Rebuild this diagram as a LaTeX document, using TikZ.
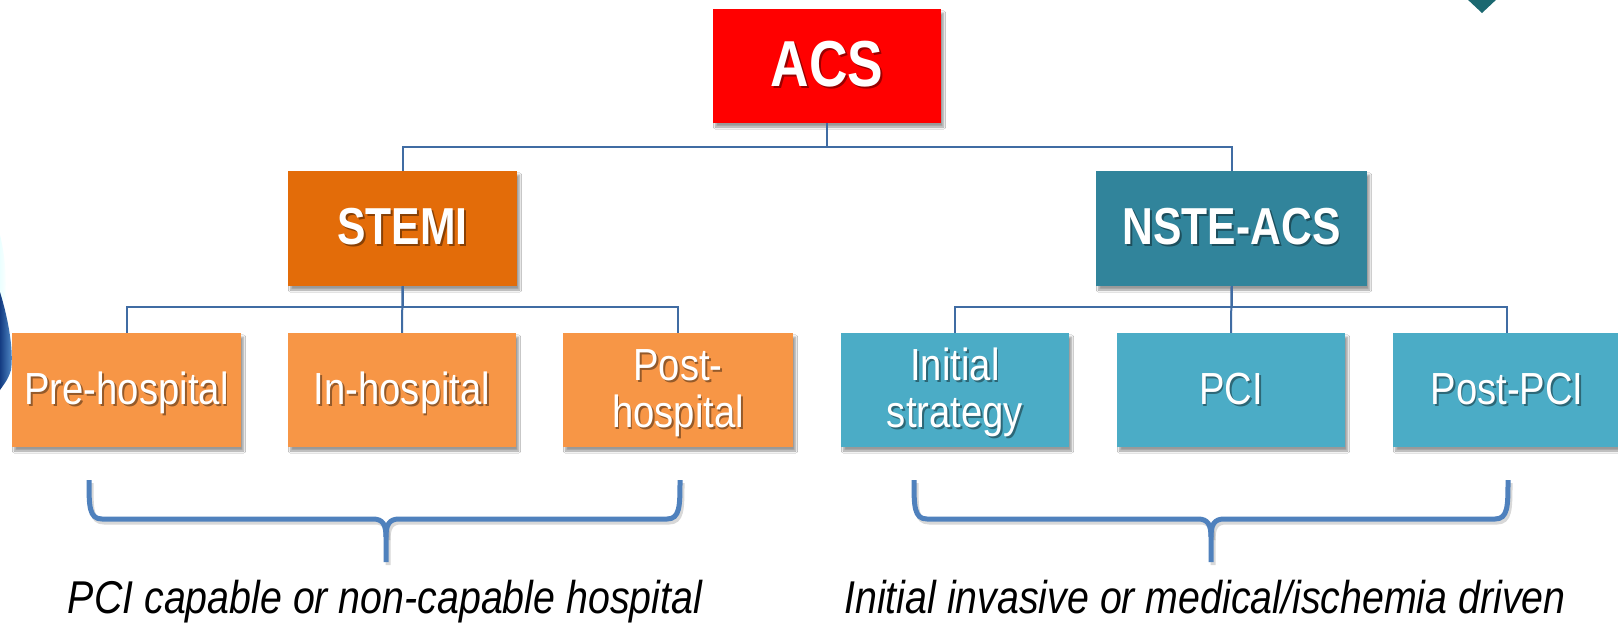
\documentclass[tikz,border=0pt]{standalone}
\usepackage{fontspec}
\setmainfont{Liberation Sans}[FakeStretch=0.85]
\newfontfamily\bfont{Liberation Sans}[FakeStretch=0.82]
\newfontfamily\ifont{Liberation Sans}[FakeStretch=0.855]
\usetikzlibrary{calc,shadows.blur}
\definecolor{acsred}{RGB}{255,0,0}
\definecolor{stemiorange}{RGB}{227,108,9}
\definecolor{nsteteal}{RGB}{49,132,155}
\definecolor{leaforange}{RGB}{247,150,70}
\definecolor{leafteal}{RGB}{75,172,198}
\definecolor{linkblue}{RGB}{64,108,163}
\definecolor{braceblue}{RGB}{79,129,189}
\definecolor{darkteal}{RGB}{27,104,112}
% #1 name, #2 position, #3 font style, #4 text
\newcommand\stxt[4]{%
  \node[txt, #3, text=black, opacity=.40] (#1s) at ($#2+(1.8,2.2)$) {#4};
  \node[txt, #3, text=white] (#1) at #2 {#4};
}
\tikzset{
  cbox/.style={draw=none, inner sep=0pt, minimum width=228pt, minimum height=114pt,
    blur shadow={shadow xshift=2.5pt, shadow yshift=-4pt, shadow blur steps=6, shadow opacity=40}},
  txt/.style={anchor=base, inner sep=0pt, align=center},
  link/.style={draw=linkblue, line width=2pt},
  bracestyle/.style={draw=braceblue, line width=5pt},
  bigfont/.style={font=\bfont\bfseries\fontsize{65}{70}\selectfont},
  midfont/.style={font=\bfont\bfseries\fontsize{52}{56}\selectfont},
  leaffont/.style={font=\fontsize{45}{47}\selectfont},
  capfont/.style={font=\ifont\itshape\fontsize{46}{50}\selectfont}
}
\begin{document}
\begin{tikzpicture}[x=1pt,y=-1pt]
\fill[white] (0,0) rectangle (1618,625);
\useasboundingbox (0,0) rectangle (1618,625);
% background decorations
\fill[darkteal] (1466,-2) -- (1498,-2) -- (1482,13) -- cycle;
\shade[left color=cyan!8, right color=white] (0,235) .. controls (5,255) and (7,280) .. (5,300) -- (0,300) -- cycle;
\shade[left color={rgb,255:red,20;green,60;blue,130}, right color={rgb,255:red,90;green,150;blue,210}] (0,292) .. controls (8,318) and (14,350) .. (11,370) .. controls (8,380) and (4,384) .. (0,390) -- cycle;
% boxes
\node[cbox, fill=acsred] (acs) at (827,66) {};
\node[cbox, fill=stemiorange, minimum width=229pt, minimum height=115pt] (stemi) at (402.5,228.5) {};
\node[cbox, fill=nsteteal, minimum width=271pt, minimum height=115pt] (nste) at (1231.5,228.5) {};
\node[cbox, fill=leaforange, minimum width=229pt] (pre) at (126.5,390) {};
\node[cbox, fill=leaforange] (inh) at (402,390) {};
\node[cbox, fill=leaforange, minimum width=230pt] (post) at (678,390) {};
\node[cbox, fill=leafteal] (init) at (955,390) {};
\node[cbox, fill=leafteal] (pci) at (1231,390) {};
\node[cbox, fill=leafteal] (ppci) at (1507,390) {};
% connectors
\draw[link] (acs.south) -- ++(0,24) -| (stemi.north);
\draw[link] (acs.south) -- ++(0,24) -| (nste.north);
\draw[link] (stemi.south) -- ++(0,21) -| (pre.north);
\draw[link] (stemi.south) -- (inh.north);
\draw[link] (stemi.south) -- ++(0,21) -| (post.north);
\draw[link] (nste.south) -- ++(0,21) -| (init.north);
\draw[link] (nste.south) -- (pci.north);
\draw[link] (nste.south) -- ++(0,21) -| (ppci.north);
% texts
\stxt{acst}{(827,86)}{bigfont}{ACS}
\stxt{stemit}{(402.5,244)}{midfont}{STEMI}
\stxt{nstet}{(1231.5,244)}{midfont}{NSTE-ACS}
\stxt{pret}{(126.5,404)}{leaffont}{Pre-hospital}
\stxt{inht}{(402,404)}{leaffont}{In-hospital}
\stxt{postt}{(678,427)}{leaffont}{Post-\\hospital}
\stxt{initt}{(955,427)}{leaffont}{Initial\\strategy}
\stxt{pcit}{(1231,404)}{leaffont}{PCI}
\stxt{ppcit}{(1507,404)}{leaffont}{Post-PCI}
% braces
\begin{scope}[shift={(2,3)}]
\draw[bracestyle, draw=black!60, opacity=.25] (89,480) .. controls (89,506) and (89,519) .. (102,519) -- (373,519) .. controls (383,519) and (386,525) .. (386,537) -- (386,562);
\draw[bracestyle, draw=black!60, opacity=.25] (680,480) .. controls (680,506) and (680,519) .. (667,519) -- (399,519) .. controls (389,519) and (386,525) .. (386,537);
\draw[bracestyle, draw=black!60, opacity=.25] (914,480) .. controls (914,506) and (914,519) .. (927,519) -- (1198,519) .. controls (1208,519) and (1211,525) .. (1211,537) -- (1211,562);
\draw[bracestyle, draw=black!60, opacity=.25] (1508,480) .. controls (1508,506) and (1508,519) .. (1495,519) -- (1224,519) .. controls (1214,519) and (1211,525) .. (1211,537);
\end{scope}
\draw[bracestyle] (89,480) .. controls (89,506) and (89,519) .. (102,519) -- (373,519) .. controls (383,519) and (386,525) .. (386,537) -- (386,562);
\draw[bracestyle] (680,480) .. controls (680,506) and (680,519) .. (667,519) -- (399,519) .. controls (389,519) and (386,525) .. (386,537);
\draw[bracestyle] (914,480) .. controls (914,506) and (914,519) .. (927,519) -- (1198,519) .. controls (1208,519) and (1211,525) .. (1211,537) -- (1211,562);
\draw[bracestyle] (1508,480) .. controls (1508,506) and (1508,519) .. (1495,519) -- (1224,519) .. controls (1214,519) and (1211,525) .. (1211,537);
% captions
\node[txt, capfont] (capl) at (385,613) {PCI capable or non-capable hospital};
\node[txt, capfont] (capr) at (1205,613) {Initial invasive or medical/ischemia driven};
\end{tikzpicture}
\end{document}
